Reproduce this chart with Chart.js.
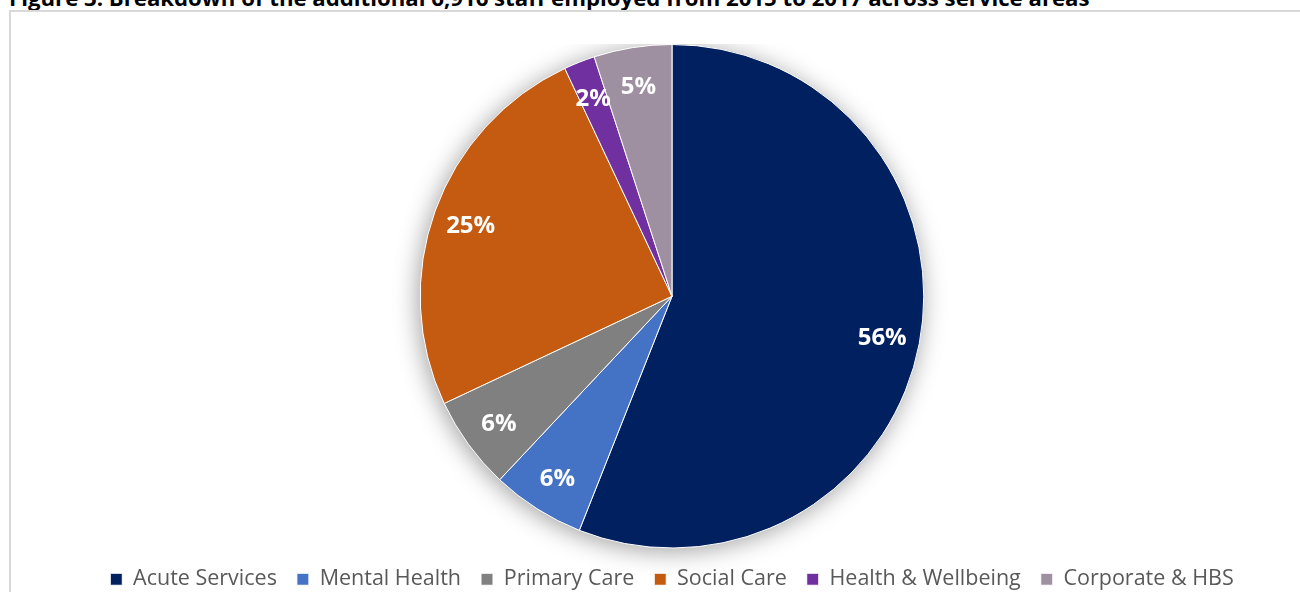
<!DOCTYPE html>
<html lang="en">
<head>
  <meta charset="UTF-8">
  <title>Additional staff by service area</title>
  <script src="https://cdn.jsdelivr.net/npm/chart.js"></script>
  <style>
    body {
      margin: 0;
      width: 1300px;
      height: 592px;
      overflow: hidden;
      background: #ffffff;
      font-family: 'Open Sans', sans-serif;
      position: relative;
    }

    .title {
      position: absolute;
      left: 9px;
      top: -18px;
      font-size: 22.2px;
      font-weight: 700;
      color: #000;
      white-space: nowrap;
    }

    .frame {
      position: absolute;
      left: 9px;
      top: 10px;
      width: 1310px;
      height: 600px;
      border: 2px solid #d9d9d9;
      box-sizing: border-box;
    }

    .chart-box {
      position: absolute;
      left: 44px;
      top: 44px;
      width: 1256px;
      height: 556px;
    }
  </style>
</head>
<body>

  <div class="title">Figure 3: Breakdown of the additional 6,916 staff employed from 2015 to 2017 across service areas</div>
  <div class="frame"></div>
  <div class="chart-box">
    <canvas id="pie"></canvas>
  </div>

  <script>
    const areas = ['Acute Services', 'Mental Health', 'Primary Care', 'Social Care', 'Health & Wellbeing', 'Corporate & HBS'];
    const shares = [56, 6, 6, 25, 2, 5];
    const colours = ['#002060', '#4472c4', '#808080', '#c55a11', '#7030a0', '#9e90a0'];

    // soft drop shadow behind the whole pie
    const pieShadow = {
      id: 'pieShadow',
      beforeDatasetsDraw(chart) {
        const arc = chart.getDatasetMeta(0).data[0];
        if (!arc) return;
        const { x, y, outerRadius } = arc.getProps(['x', 'y', 'outerRadius'], true);
        const ctx = chart.ctx;
        ctx.save();
        ctx.shadowColor = 'rgba(0,0,0,0.38)';
        ctx.shadowBlur = 24;
        ctx.shadowOffsetX = -2;
        ctx.shadowOffsetY = 3;
        ctx.fillStyle = '#ffffff';
        ctx.beginPath();
        ctx.arc(x, y, outerRadius, 0, Math.PI * 2);
        ctx.fill();
        ctx.restore();
      }
    };

    // percentage labels inside each slice
    const sliceLabels = {
      id: 'sliceLabels',
      afterDatasetsDraw(chart) {
        const ctx = chart.ctx;
        const meta = chart.getDatasetMeta(0);
        ctx.save();
        ctx.fillStyle = '#ffffff';
        ctx.font = 'bold 24px "Open Sans", sans-serif';
        ctx.textAlign = 'center';
        ctx.textBaseline = 'middle';
        meta.data.forEach((arc, i) => {
          const p = arc.getProps(['x', 'y', 'startAngle', 'endAngle', 'outerRadius'], true);
          const mid = (p.startAngle + p.endAngle) / 2;
          const r = p.outerRadius * 0.85;
          ctx.fillText(shares[i] + '%', p.x + Math.cos(mid) * r, p.y + Math.sin(mid) * r + 2);
        });
        ctx.restore();
      }
    };

    new Chart(document.getElementById('pie'), {
      type: 'pie',
      data: {
        labels: areas,
        datasets: [{
          data: shares,
          backgroundColor: colours,
          borderColor: '#ffffff',
          borderWidth: 1
        }]
      },
      options: {
        responsive: true,
        maintainAspectRatio: false,
        animation: false,
        layout: { padding: 0 },
        plugins: {
          legend: {
            position: 'bottom',
            labels: {
              boxWidth: 12,
              boxHeight: 12,
              padding: 20,
              color: '#595959',
              font: { family: 'Open Sans', size: 21.5 }
            }
          },
          tooltip: { enabled: false }
        }
      },
      plugins: [pieShadow, sliceLabels]
    });
  </script>
</body>
</html>
